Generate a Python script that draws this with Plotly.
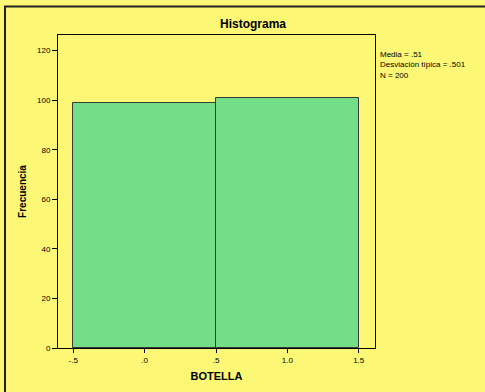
import plotly.graph_objects as go

bin_centers = [0.0, 1.0]
frequencies = [99, 101]
x_tick_vals = [-0.5, 0.0, 0.5, 1.0, 1.5]
x_tick_text = ["-.5", ".0", ".5", "1.0", "1.5"]
y_tick_vals = [0, 20, 40, 60, 80, 100, 120]
stats_lines = ["Media = .51", "Desviación típica = .501", "N = 200"]

W, H = 485, 392
L, R, T, B = 58, 110, 35, 38
pw, ph = W - L - R, H - T - B
bg = "#FCF876"

def px2x(px):
    return (px - L) / pw

def py2y(py):
    return (H - B - py) / ph

fig = go.Figure()
fig.add_trace(go.Bar(
    x=bin_centers, y=frequencies, width=1,
    marker=dict(color="#72DF87", line=dict(color="#3a3a3a", width=1)),
    hoverinfo="skip",
))

fig.update_layout(
    width=W, height=H,
    margin=dict(l=L, r=R, t=T, b=B),
    paper_bgcolor=bg, plot_bgcolor=bg,
    showlegend=False,
    font=dict(family="Arial, Liberation Sans, sans-serif", size=8, color="#000"),
    title=dict(text="<b>Histograma</b>", x=253 / W, xanchor="center",
               y=1 - 24 / H, yanchor="middle", xref="container",
               font=dict(size=12, color="#000")),
    xaxis=dict(range=[-0.607, 1.614], tickvals=x_tick_vals, ticktext=x_tick_text,
               ticks="outside", ticklen=4, tickcolor="#000", showgrid=False, zeroline=False,
               showline=True, linecolor="#000", linewidth=1, mirror=True,
               title=dict(text="<b>BOTELLA</b>", font=dict(size=11), standoff=8),
               tickfont=dict(size=8)),
    yaxis=dict(range=[0, 126.3], tickvals=y_tick_vals, ticks="outside", ticklen=5,
               tickcolor="#000", showgrid=False, zeroline=False,
               showline=True, linecolor="#000", linewidth=1, mirror=True,
               title=dict(text="<b>Frecuencia</b>", font=dict(size=10), standoff=8),
               tickfont=dict(size=8)),
    bargap=0,
)

fig.add_annotation(text="<br>".join(stats_lines), xref="paper", yref="paper",
                   x=px2x(378), y=py2y(48), xanchor="left", yanchor="top",
                   showarrow=False, align="left", font=dict(size=8),
                   )

# outer frame (dark border on top/left)
fig.add_shape(type="rect", xref="paper", yref="paper",
              x0=px2x(5), x1=px2x(W + 10), y0=py2y(6), y1=py2y(H + 10),
              line=dict(color="#222", width=2), fillcolor="rgba(0,0,0,0)")

fig.write_html("out.html", config={"displayModeBar": False},
               post_script="document.body.style.margin='0';document.body.style.overflow='hidden';")
